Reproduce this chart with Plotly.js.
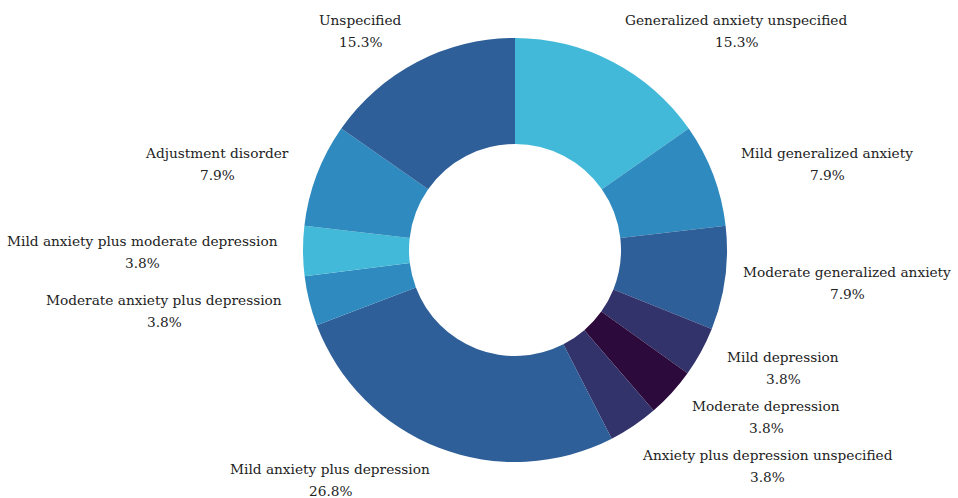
<!DOCTYPE html>
<html>
<head>
<meta charset="utf-8">
<script src="https://cdn.plot.ly/plotly-3.0.1.min.js"></script>
<style>
  html, body { margin: 0; padding: 0; background: #fff; }
  #chart { width: 958px; height: 498px; }
</style>
</head>
<body>
<div id="chart"></div>
<script>
// Diagnosis categories, clockwise from 12 o'clock
const categories = [
  "Generalized anxiety unspecified",
  "Mild generalized anxiety",
  "Moderate generalized anxiety",
  "Mild depression",
  "Moderate depression",
  "Anxiety plus depression unspecified",
  "Mild anxiety plus depression",
  "Moderate anxiety plus depression",
  "Mild anxiety plus moderate depression",
  "Adjustment disorder",
  "Unspecified"
];
// Share of cases (%)
const shares = [15.3, 7.9, 7.9, 3.8, 3.8, 3.8, 26.8, 3.8, 3.8, 7.9, 15.3];

const sliceColors = [
  "#42b9d8", "#2f8bbf", "#2f5f98", "#33336b", "#2c0a3c", "#33336b",
  "#2f5f98", "#2f8bbf", "#42b9d8", "#2f8bbf", "#2f5f98"
];

// Centre of the name line (pixels from top-left) for each category
const labelPos = [
  [736, 20], [827, 153], [847, 272], [783, 357], [766, 406], [767, 455],
  [330, 469], [164, 300], [142, 241], [217, 153], [360, 20]
];
const LINE_GAP = 22;

const W = 958, H = 498;

const trace = {
  type: "pie",
  labels: categories,
  values: shares,
  hole: 0.5,
  sort: false,
  direction: "clockwise",
  rotation: 0,
  textinfo: "none",
  hoverinfo: "label+percent",
  marker: { colors: sliceColors, line: { width: 0 } },
  domain: { x: [303 / W, 727 / W], y: [1 - 462 / H, 1 - 38 / H] }
};

const labelFont = { family: "DejaVu Serif", size: 13.7, color: "#222" };

// Each label: category name with its percentage on the line below
const annotations = [];
categories.forEach((name, i) => {
  const [px, py] = labelPos[i];
  [name, shares[i].toFixed(1) + "%"].forEach((line, k) => {
    annotations.push({
      xref: "paper", yref: "paper",
      x: px / W,
      y: 1 - (py + k * LINE_GAP) / H,
      xanchor: "center", yanchor: "middle",
      showarrow: false,
      text: line,
      font: labelFont
    });
  });
});

const layout = {
  width: W, height: H,
  margin: { l: 0, r: 0, t: 0, b: 0 },
  paper_bgcolor: "#fff",
  showlegend: false,
  annotations: annotations
};

Plotly.newPlot("chart", [trace], layout, { staticPlot: true });
</script>
</body>
</html>
